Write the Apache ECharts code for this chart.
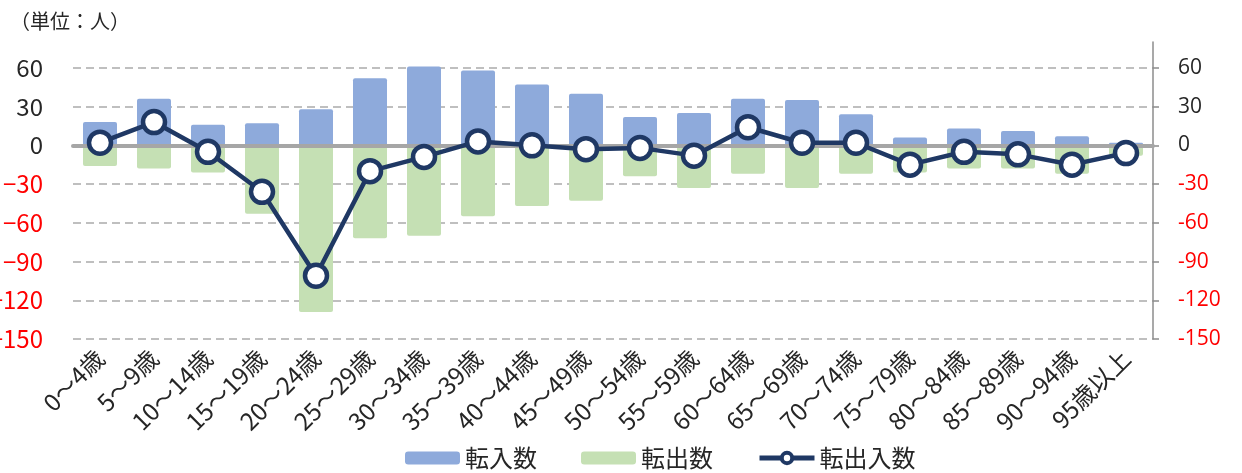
<!DOCTYPE html>
<html>
<head>
<meta charset="utf-8">
<script src="https://cdn.jsdelivr.net/npm/echarts@6/dist/echarts.min.js"></script>
<style>
  html, body { margin: 0; padding: 0; background: #fff; }
  #chart { width: 1242px; height: 473px; }
</style>
</head>
<body>
<div id="chart"></div>
<script>
const categories = [
  '0～4歳', '5～9歳', '10～14歳', '15～19歳', '20～24歳', '25～29歳', '30～34歳',
  '35～39歳', '40～44歳', '45～49歳', '50～54歳', '55～59歳', '60～64歳', '65～69歳',
  '70～74歳', '75～79歳', '80～84歳', '85～89歳', '90～94歳', '95歳以上'
]
const inflow = [18, 36, 16, 17, 28, 52, 61, 58, 47, 40, 22, 25, 36, 35, 24, 6, 13, 11, 7, 2]
const outflow = [-16, -18, -21, -53, -129, -72, -70, -55, -47, -43, -24, -33, -22, -33, -22, -21, -18, -18, -22, -8]
const net = [2, 18, -5, -36, -101, -20, -9, 3, 0, -3, -2, -8, 14, 2, 2, -15, -5, -7, -15, -6]
const tickValues = [-150, -120, -90, -60, -30, 0, 30, 60]

const narrow = "'Liberation Sans Narrow', 'Noto Sans CJK JP', sans-serif"
const regular = "'Open Sans', 'Noto Sans CJK JP', sans-serif"
const cjk = "'Noto Sans CJK JP', sans-serif"
const navy = '#1f3864'

const chart = echarts.init(document.getElementById('chart'), null, { renderer: 'canvas' })

const labelColor = (v) => (Number(v) < 0 ? '#ff0000' : '#262626')

const option = {
  animation: false,
  title: {
    text: '（単位：人）',
    left: 5,
    top: 6,
    textStyle: { fontFamily: cjk, fontSize: 20, fontWeight: 'normal', color: '#262626' }
  },
  legend: {
    left: 400,
    top: 441,
    itemWidth: 55,
    itemHeight: 13,
    itemGap: 44,
    textStyle: { fontFamily: cjk, fontSize: 24, color: '#262626' },
    data: [
      { name: '転入数' },
      { name: '転出数' },
      { name: '転出入数', lineStyle: { width: 5 }, itemStyle: { borderWidth: 4 } }
    ]
  },
  grid: { left: 73, right: 89, top: 42, bottom: 134, outerBoundsMode: 'none' },
  xAxis: [
    {
      type: 'category',
      data: categories,
      axisLine: { show: false },
      axisTick: { show: false },
      axisLabel: {
        rotate: 45,
        interval: 0,
        margin: 15,
        fontFamily: narrow,
        fontSize: 24,
        color: '#262626'
      }
    },
    {
      type: 'category',
      data: categories,
      position: 'bottom',
      z: 3,
      axisLine: { onZero: true, onZeroAxisIndex: 0, lineStyle: { color: '#a6a6a6', width: 4 } },
      axisTick: { show: false },
      axisLabel: { show: false }
    }
  ],
  yAxis: [
    {
      type: 'value',
      min: -150,
      max: 80,
      interval: 30,
      axisLine: { show: false },
      axisTick: { show: false },
      axisLabel: {
        margin: 30,
        fontFamily: narrow,
        fontSize: 24,
        customValues: tickValues,
        formatter: (v) => (v < 0 ? '−' + Math.abs(v) : String(v)),
        color: labelColor
      },
      splitLine: {
        showMaxLine: false,
        lineStyle: { color: '#bfbfbf', width: 2, type: [8, 5] }
      }
    },
    {
      type: 'value',
      position: 'right',
      min: -150,
      max: 80,
      interval: 30,
      axisLine: { show: true, lineStyle: { color: '#8c8c8c', width: 1.5 } },
      axisTick: { show: true, length: 6, customValues: tickValues, lineStyle: { color: '#8c8c8c', width: 1.5 } },
      axisLabel: {
        margin: 25,
        fontFamily: regular,
        fontSize: 21,
        customValues: tickValues,
        formatter: (v) => String(v),
        color: labelColor
      },
      splitLine: { show: false }
    }
  ],
  series: [
    {
      name: '転入数',
      type: 'bar',
      stack: 'flow',
      barWidth: 34,
      clip: false,
      itemStyle: { color: '#8eaadb', borderRadius: 2 },
      data: inflow
    },
    {
      name: '転出数',
      type: 'bar',
      stack: 'flow',
      barWidth: 34,
      itemStyle: { color: '#c5e0b4', borderRadius: 2 },
      data: outflow
    },
    {
      name: '転出入数',
      type: 'line',
      z: 5,
      symbol: 'circle',
      symbolSize: 22,
      lineStyle: { color: navy, width: 4.5 },
      itemStyle: { color: '#ffffff', borderColor: navy, borderWidth: 4.5 },
      data: net
    }
  ]
}

chart.setOption(option)
</script>
</body>
</html>
